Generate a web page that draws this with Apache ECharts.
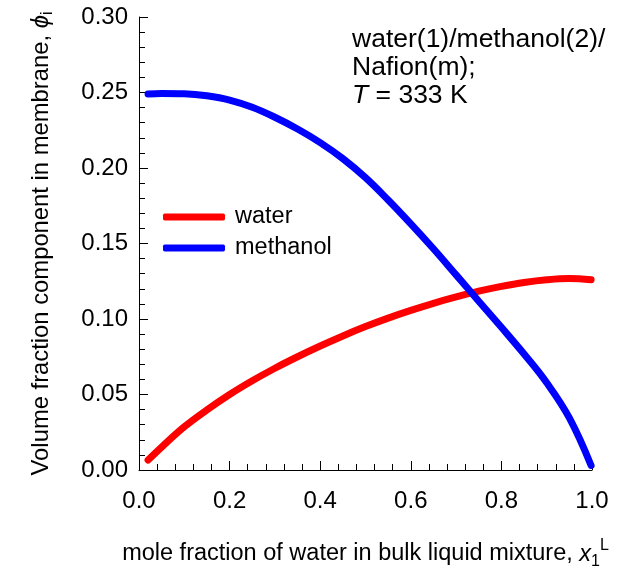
<!DOCTYPE html>
<html>
<head>
<meta charset="utf-8">
<script src="https://cdn.jsdelivr.net/npm/echarts@6/dist/echarts.min.js"></script>
<style>html,body{margin:0;padding:0;background:#fff;}#c{width:633px;height:567px;}</style>
</head>
<body>
<div id="c"></div>
<script>
const waterX = [0.02, 0.05, 0.10, 0.15, 0.20, 0.25, 0.30, 0.35, 0.40, 0.45, 0.50, 0.55, 0.60, 0.65, 0.70, 0.75, 0.80, 0.85, 0.90, 0.95, 0.998];
const waterY = [0.0066, 0.0152, 0.0286, 0.0398, 0.0500, 0.0591, 0.0674, 0.0750, 0.0821, 0.0888, 0.0950, 0.1006, 0.1057, 0.1104, 0.1146, 0.1184, 0.1216, 0.1242, 0.1260, 0.1268, 0.1260];
const methX = [0.02, 0.05, 0.10, 0.15, 0.20, 0.25, 0.30, 0.35, 0.40, 0.45, 0.50, 0.55, 0.60, 0.65, 0.70, 0.75, 0.80, 0.85, 0.90, 0.95, 0.998];
const methY = [0.2490, 0.2494, 0.2492, 0.2478, 0.2450, 0.2402, 0.2336, 0.2258, 0.2168, 0.2062, 0.1936, 0.1788, 0.1630, 0.1465, 0.1292, 0.1118, 0.0945, 0.0768, 0.0578, 0.0345, 0.0030];
const seriesNames = ['water', 'methanol'];
const xTicks = {min: 0, max: 1, step: 0.2};
const yTicks = {min: 0, max: 0.30, step: 0.05};

const FONT = 'Liberation Sans';
const chart = echarts.init(document.getElementById('c'));
const pairs = (xs, ys) => xs.map((x, i) => [x, ys[i]]);

chart.setOption({
  animation: false,
  backgroundColor: '#fff',
  textStyle: {fontFamily: FONT, color: '#000'},
  grid: {left: 139, right: 41, top: 17, bottom: 97, containLabel: false, outerBoundsMode: 'none'},
  legend: {
    left: 158, top: 200, orient: 'vertical', itemGap: 7,
    itemWidth: 62, itemHeight: 7, icon: 'roundRect',
    textStyle: {fontFamily: FONT, fontSize: 23.5, color: '#000', padding: [0, 0, 0, 5]},
    data: seriesNames
  },
  xAxis: {
    type: 'value', min: xTicks.min, max: xTicks.max, interval: xTicks.step,
    axisLine: {show: true, onZero: false, lineStyle: {color: '#000', width: 1}},
    axisTick: {inside: true, length: 9, lineStyle: {color: '#000'}},
    minorTick: {show: true, splitNumber: 5, length: 6, lineStyle: {color: '#000'}},
    splitLine: {show: false},
    axisLabel: {fontFamily: FONT, fontSize: 24, color: '#000', margin: 19, formatter: v => v.toFixed(1)},
    name: 'mole fraction of water in bulk liquid mixture, {it|x}{sub|1}{sup|L}',
    nameLocation: 'middle', nameGap: 68,
    nameTextStyle: {
      fontFamily: FONT, fontSize: 23.5, color: '#000',
      rich: {
        it: {fontFamily: FONT, fontSize: 23.5, fontStyle: 'italic', color: '#000'},
        sub: {fontFamily: FONT, fontSize: 16, color: '#000', verticalAlign: 'bottom', padding: [14, 0, 0, 0]},
        sup: {fontFamily: FONT, fontSize: 16, color: '#000', verticalAlign: 'top', padding: [0, 0, 16, 0]}
      }
    }
  },
  yAxis: {
    type: 'value', min: yTicks.min, max: yTicks.max, interval: yTicks.step,
    axisLine: {show: true, onZero: false, lineStyle: {color: '#000', width: 1}},
    axisTick: {inside: true, length: 9, lineStyle: {color: '#000'}},
    minorTick: {show: true, splitNumber: 5, length: 6, lineStyle: {color: '#000'}},
    splitLine: {show: false},
    axisLabel: {fontFamily: FONT, fontSize: 24, color: '#000', margin: 11, formatter: v => v.toFixed(2)},
    name: 'Volume fraction component in membrane, {it|ϕ}{sub|i}',
    nameLocation: 'middle', nameGap: 83,
    nameTextStyle: {
      fontFamily: FONT, fontSize: 23.8, color: '#000',
      rich: {
        it: {fontFamily: FONT, fontSize: 23.8, fontStyle: 'italic', color: '#000'},
        sub: {fontFamily: FONT, fontSize: 16, color: '#000', verticalAlign: 'bottom', padding: [14, 0, 0, 0]}
      }
    }
  },
  graphic: [{
    type: 'text', left: 352, top: 26,
    style: {
      text: 'water(1)/methanol(2)/\nNafion(m);\n{it|T} = 333 K',
      font: '26.5px "Liberation Sans"', fill: '#000', lineHeight: 28,
      rich: {it: {fontFamily: FONT, fontSize: 26.5, fontStyle: 'italic', fill: '#000', lineHeight: 28}}
    }
  }],
  series: [
    {name: seriesNames[0], type: 'line', data: pairs(waterX, waterY), smooth: 0.4, showSymbol: false,
     color: '#ff0000', lineStyle: {width: 7, color: '#ff0000', cap: 'round'}},
    {name: seriesNames[1], type: 'line', data: pairs(methX, methY), smooth: 0.4, showSymbol: false,
     color: '#0000ff', lineStyle: {width: 7, color: '#0000ff', cap: 'round'}}
  ]
});
</script>
</body>
</html>
